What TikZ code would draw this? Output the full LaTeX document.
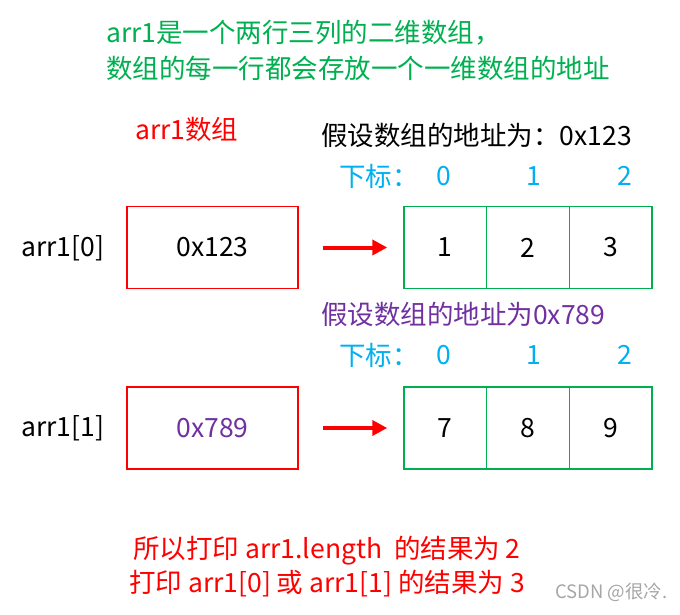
\documentclass[tikz,border=0pt]{standalone}
\usepackage{fontspec}
\setmainfont{Noto Sans CJK SC}
\usetikzlibrary{arrows.meta}
\definecolor{cgreen}{HTML}{00B050}
\definecolor{cred}{HTML}{FF0000}
\definecolor{cblue}{HTML}{00B0F0}
\definecolor{cpurple}{HTML}{7030A0}
\definecolor{cgray}{HTML}{A6A6A6}
\tikzset{
  txt/.style={inner sep=0pt, font=\fontsize{26.5}{30}\selectfont},
  ptrbox/.style={draw=cred, line width=1.4pt, minimum width=171pt, minimum height=82pt, inner sep=0pt, font=\fontsize{26.5}{30}\selectfont},
  cellbox/.style={draw=cgreen, line width=1.4pt, minimum width=82.7pt, minimum height=82pt, inner sep=0pt, font=\fontsize{26.5}{30}\selectfont},
  ptrarrow/.style={draw=cred, line width=4pt, -{Triangle[length=15pt,width=15pt]}, shorten <=24pt, shorten >=16pt},
}
\begin{document}
\begin{tikzpicture}[x=1pt,y=-1pt]
\useasboundingbox (0,0) rectangle (680,615);
% title
\node[txt, anchor=west, text=cgreen] (t1) at (106,33) {arr1是一个两行三列的二维数组，};
\node[txt, anchor=west, text=cgreen] (t2) at (106,68) {数组的每一行都会存放一个一维数组的地址};
\node[txt, anchor=west, text=cred] (lbl) at (135,129) {arr1数组};
% row 0
\node[txt, anchor=west] (a0) at (321,135) {假设数组的地址为：0x123};
\node[txt, anchor=west, text=cblue] (s0) at (339,176) {下标：};
\node[txt, text=cblue] (i00) at (444,176) {0};
\node[txt, text=cblue] (i01) at (534,176) {1};
\node[txt, text=cblue] (i02) at (625,176) {2};
\node[txt, anchor=west] (n0) at (21,248) {arr1[0]};
\node[ptrbox] (r0) at (212.5,247.5) {0x123};
\node[cellbox] (c00) at (445.3,247.5) {1};
\node[cellbox] (c01) at (528,247.5) {2};
\node[cellbox] (c02) at (610.7,247.5) {3};
\draw[ptrarrow] (r0.east) -- (c00.west);
% row 1
\node[txt, anchor=west, text=cpurple] (a1) at (321,314) {假设数组的地址为0x789};
\node[txt, anchor=west, text=cblue] (s1) at (339,355) {下标：};
\node[txt, text=cblue] (i10) at (444,355) {0};
\node[txt, text=cblue] (i11) at (534,355) {1};
\node[txt, text=cblue] (i12) at (625,355) {2};
\node[txt, anchor=west] (n1) at (21,428) {arr1[1]};
\node[ptrbox, text=cpurple] (r1) at (212.5,428) {0x789};
\node[cellbox] (c10) at (445.3,428) {7};
\node[cellbox] (c11) at (528,428) {8};
\node[cellbox] (c12) at (610.7,428) {9};
\draw[ptrarrow] (r1.east) -- (c10.west);
% bottom
\node[txt, text=cred] (b1) at (327,551) {所以打印 arr1.length\ \ 的结果为 2};
\node[txt, text=cred] (b2) at (327,584) {打印 arr1[0] 或 arr1[1] 的结果为 3};
\node[inner sep=0pt, anchor=west, text=cgray, font=\fontsize{18.5}{22}\selectfont] (wm) at (555,592) {CSDN @很冷.};
\end{tikzpicture}
\end{document}
